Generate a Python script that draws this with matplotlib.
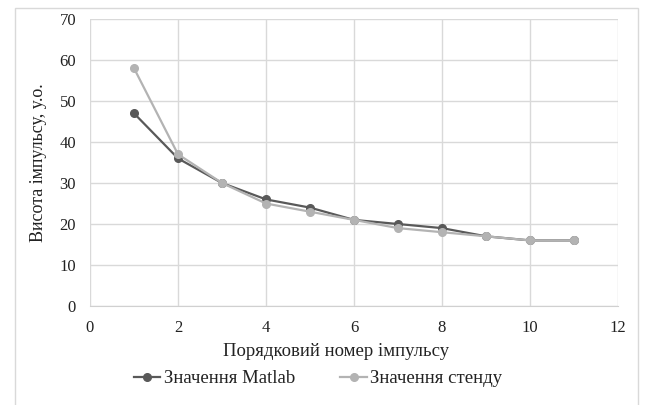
import matplotlib.pyplot as plt
from matplotlib.patches import Rectangle

plt.rcParams['font.family'] = ['Liberation Serif', 'DejaVu Serif']

# data
pulse_no = [1, 2, 3, 4, 5, 6, 7, 8, 9, 10, 11]
matlab_vals = [47, 36, 30, 26, 24, 21, 20, 19, 17, 16, 16]
stand_vals = [58, 37, 30, 25, 23, 21, 19, 18, 17, 16, 16]

x_ticks = [0, 2, 4, 6, 8, 10, 12]
y_ticks = [0, 10, 20, 30, 40, 50, 60, 70]

fig = plt.figure(figsize=(6.47, 4.05), dpi=100)
ax = fig.add_axes([0.1391, 0.2444, 0.8161, 0.7087])

ax.plot(pulse_no, matlab_vals, color='#595959', lw=1.6, marker='o', ms=5.5,
        label='Значення Matlab', zorder=2)
ax.plot(pulse_no, stand_vals, color='#b3b3b3', lw=1.6, marker='o', ms=5.5,
        label='Значення стенду', zorder=3)

ax.set_xlim(0, 12)
ax.set_ylim(0, 70)
ax.set_xticks(x_ticks)
ax.set_yticks(y_ticks)
ax.grid(True, color='#d9d9d9', lw=1.0)
ax.set_axisbelow(True)
for s in ax.spines.values():
    s.set_visible(False)
ax.spines['bottom'].set_visible(True)
ax.spines['bottom'].set_color('#d0d0d0')
ax.tick_params(length=0, labelsize=12, colors='#222222')
ax.tick_params(axis='x', pad=10)
ax.tick_params(axis='y', pad=10)

ax.set_xlabel('Порядковий номер імпульсу', fontsize=13.5, color='#222222')
ax.xaxis.set_label_coords(0.466, -0.128)
ax.set_ylabel('Висота імпульсу, у.о.', fontsize=13, color='#222222', labelpad=9)

leg = fig.legend(loc='center', bbox_to_anchor=(0.492, 0.065), ncol=2, frameon=False,
                 fontsize=13.5, handlelength=1.4, columnspacing=2.4, handletextpad=0.2)
for t in leg.get_texts():
    t.set_color('#222222')

# outer chart border
fig.patches.append(Rectangle((0.0232, -0.02), 0.963, 1.0, transform=fig.transFigure,
                             fill=False, edgecolor='#d9d9d9', lw=1.0))

fig.savefig('out.png', dpi=100)
